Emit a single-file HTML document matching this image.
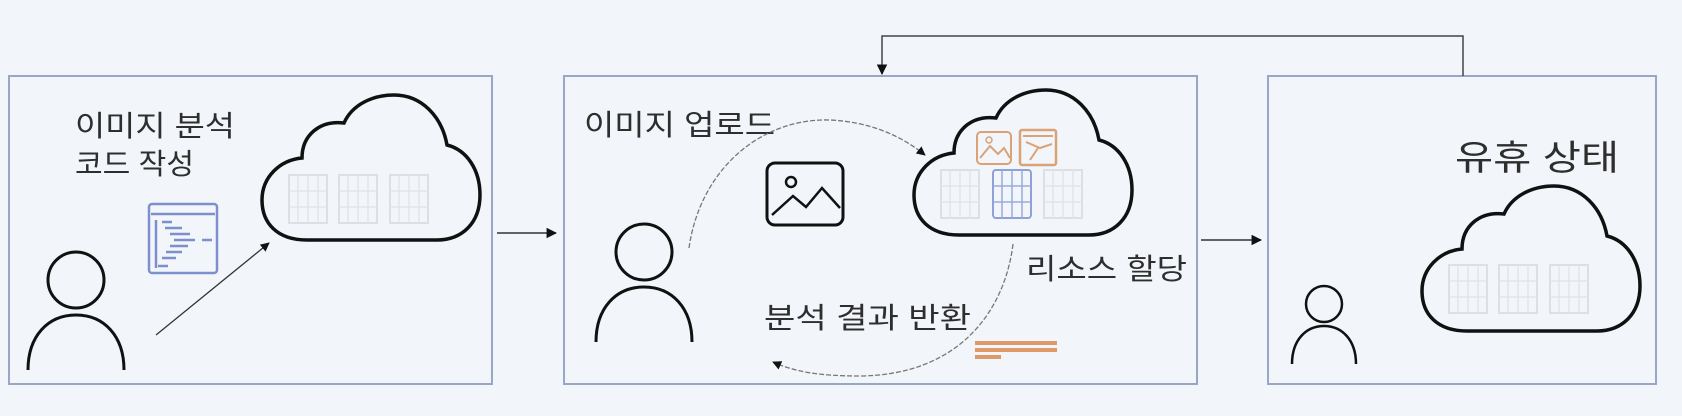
<!DOCTYPE html>
<html><head><meta charset="utf-8"><style>
html,body{margin:0;padding:0;background:#f2f6fa;}
svg{display:block}
text{font-family:"Liberation Sans","Noto Sans CJK KR",sans-serif;fill:#2e2e2e;}
</style></head><body>
<svg width="1682" height="416" viewBox="0 0 1682 416" xmlns="http://www.w3.org/2000/svg">
<defs>
<marker id="ah" viewBox="0 0 10 10" refX="9" refY="5" markerWidth="7" markerHeight="7" orient="auto"><path d="M0,0 L10,5 L0,10 z" fill="#111"/></marker>
<path id="cloud" d="M45,145 C15,145 0,128 0,105 C0,82 18,65 40,63 C40,40 58,25 82,28 C90,10 110,0 132,0 C160,0 180,22 185,50 C205,55 218,75 218,100 C218,128 200,145 175,145 Z"/>
<g id="srv"><rect x="0" y="0" width="38" height="48" fill="none" stroke="#dcdfe3" stroke-width="2"/>
<path d="M0,16 H38 M0,32 H38 M9,0 V48 M19,0 V48 M29,0 V48" stroke="#e2e5e8" stroke-width="1.5"/></g>
<g id="srvb"><rect x="0" y="0" width="38" height="48" fill="none" stroke="#8fa2d8" stroke-width="2" rx="3"/>
<path d="M0,16 H38 M0,32 H38 M9,0 V48 M19,0 V48 M29,0 V48" stroke="#9aabdc" stroke-width="1.5"/></g>
<g id="person"><circle cx="50" cy="29" r="28" fill="none" stroke="#111" stroke-width="3"/>
<path d="M2,119 C2,85 22,64 50,64 C78,64 98,85 98,119" fill="none" stroke="#111" stroke-width="3"/></g>
</defs>

<rect x="9" y="76" width="483" height="308" fill="none" stroke="#9aa6c6" stroke-width="2"/>
<rect x="564" y="76" width="633" height="308" fill="none" stroke="#9aa6c6" stroke-width="2"/>
<rect x="1268" y="76" width="388" height="308" fill="none" stroke="#9aa6c6" stroke-width="2"/>

<line x1="497" y1="233" x2="556" y2="233" stroke="#333" stroke-width="1.5" marker-end="url(#ah)"/>
<line x1="1201" y1="240" x2="1261" y2="240" stroke="#333" stroke-width="1.5" marker-end="url(#ah)"/>
<polyline points="1463,76 1463,36 882,36 882,74" fill="none" stroke="#444" stroke-width="1.5" marker-end="url(#ah)"/>

<text x="75" y="136" font-size="29" textLength="160" lengthAdjust="spacingAndGlyphs">이미지 분석</text>
<text x="75" y="174" font-size="29" textLength="119" lengthAdjust="spacingAndGlyphs">코드 작성</text>
<use href="#cloud" x="262" y="95" fill="none" stroke="#111" stroke-width="3.5"/>
<use href="#srv" x="289" y="175"/><use href="#srv" x="339" y="175"/><use href="#srv" x="390" y="175"/>
<g>
<rect x="149" y="204" width="68" height="69" rx="3" fill="none" stroke="#7d90cc" stroke-width="2.5"/>
<line x1="151" y1="214" x2="215" y2="214" stroke="#7d90cc" stroke-width="2.5"/>
<path d="M156,220 V268 M162,222 H172 M165,228 H182 M170,234 H190 M174,240 H195 M202,240 H212 M170,246 H188 M166,252 H182 M162,258 H176 M158,266 H168" stroke="#7d90cc" stroke-width="2.5"/>
</g>
<use href="#person" x="26" y="251"/>
<line x1="156" y1="335" x2="269" y2="243" stroke="#333" stroke-width="1.3" marker-end="url(#ah)"/>

<text x="584" y="135" font-size="29" textLength="191" lengthAdjust="spacingAndGlyphs">이미지 업로드</text>
<use href="#person" x="594" y="223"/>
<g>
<rect x="767" y="163" width="76" height="62" rx="8" fill="none" stroke="#111" stroke-width="3"/>
<circle cx="791" cy="182" r="5" fill="none" stroke="#111" stroke-width="2.5"/>
<path d="M772,215 L793,196 L806,207 L822,188 L840,208" fill="none" stroke="#111" stroke-width="2.5"/>
</g>
<path d="M689,248 C700,170 760,118 830,120 C870,122 900,135 925,155" fill="none" stroke="#777" stroke-width="1.3" stroke-dasharray="5,2" marker-end="url(#ah)"/>
<use href="#cloud" x="914" y="90" fill="none" stroke="#111" stroke-width="3.5"/>
<rect x="977" y="132" width="34" height="32" rx="4" fill="none" stroke="#d9a277" stroke-width="2"/>
<path d="M980,158 L990,146 L998,154 L1004,148 L1010,158" fill="none" stroke="#d9a277" stroke-width="2"/>
<circle cx="989" cy="140" r="3" fill="none" stroke="#d9a277" stroke-width="1.5"/>
<rect x="1020" y="130" width="36" height="35" rx="2" fill="none" stroke="#d9a277" stroke-width="2.5"/>
<path d="M1023,136 H1053 M1026,142 L1040,148 L1052,144 M1030,160 L1038,148" fill="none" stroke="#d9a277" stroke-width="2"/>
<use href="#srv" x="941" y="170"/><use href="#srvb" x="993" y="170"/><use href="#srv" x="1044" y="170"/>
<text x="1026" y="279" font-size="29" textLength="161" lengthAdjust="spacingAndGlyphs">리소스 할당</text>
<text x="764" y="328" font-size="29" textLength="207" lengthAdjust="spacingAndGlyphs">분석 결과 반환</text>
<path d="M1013,244 C1005,310 960,375 860,376 C820,376 795,372 773,362" fill="none" stroke="#777" stroke-width="1.3" stroke-dasharray="5,2" marker-end="url(#ah)"/>
<g fill="#dd9a68">
<rect x="975" y="341" width="82" height="4"/><rect x="975" y="348" width="82" height="4"/><rect x="975" y="355" width="26" height="4"/>
</g>

<text x="1455" y="170" font-size="35" textLength="164" lengthAdjust="spacingAndGlyphs">유휴 상태</text>
<use href="#cloud" x="1422" y="186" fill="none" stroke="#111" stroke-width="3.5"/>
<use href="#srv" x="1449" y="265"/><use href="#srv" x="1499" y="265"/><use href="#srv" x="1550" y="265"/>
<circle cx="1324" cy="304" r="18" fill="none" stroke="#111" stroke-width="2.5"/>
<path d="M1292,364 C1292,340 1306,326 1324,326 C1342,326 1356,340 1356,364" fill="none" stroke="#111" stroke-width="2.5"/>
</svg>
</body></html>
